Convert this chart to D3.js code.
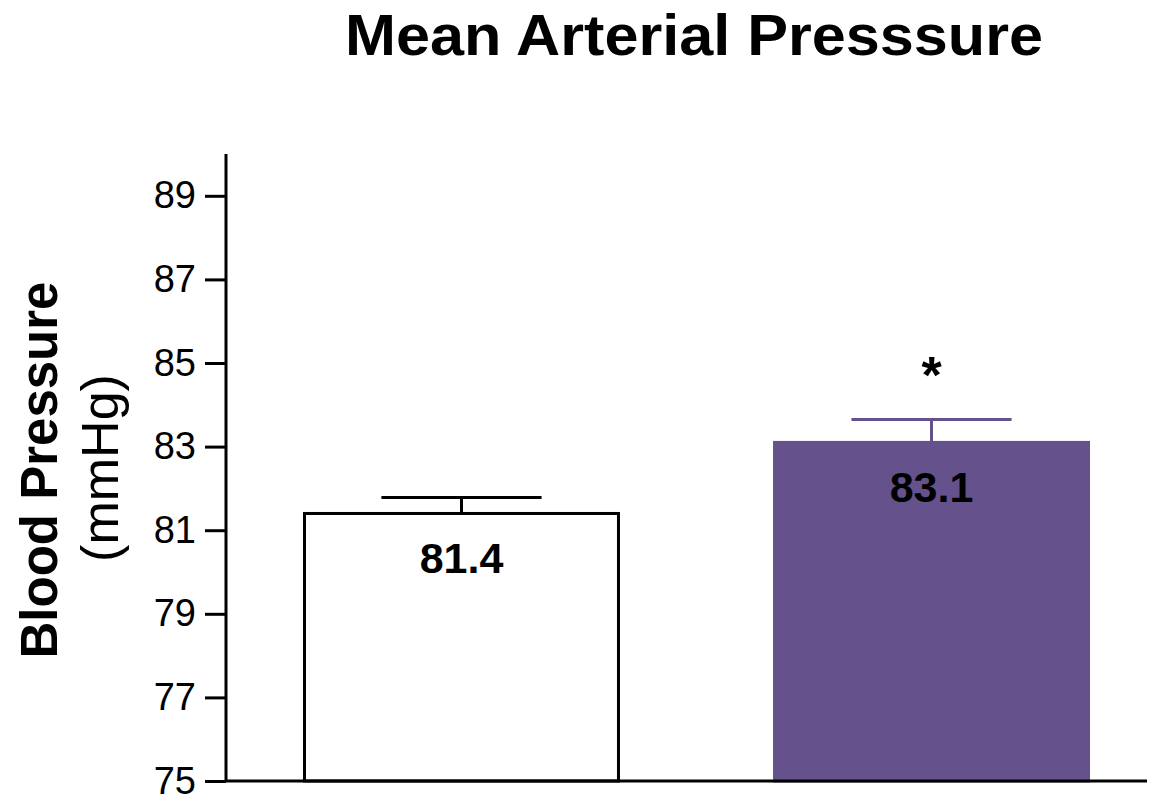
<!DOCTYPE html>
<html>
<head>
<meta charset="utf-8">
<script src="https://cdn.jsdelivr.net/npm/d3@7"></script>
<style>
  body { margin: 0; background: #fff; }
  text { font-family: "Liberation Sans", Arial, sans-serif; }
</style>
</head>
<body>
<div id="chart"></div>
<script>
// data
const groups = ["Control", "Treated"];
const means = [81.4, 83.1];
const errors = [0.38, 0.55];
const valueLabels = ["81.4", "83.1"];
const marks = ["", "*"];
const yTicks = [75, 77, 79, 81, 83, 85, 87, 89];
const barFills = ["#ffffff", "#65518c"];
const barStrokes = ["#000000", "#65518c"];

const W = 1149, H = 799;
const margin = { top: 154, right: 2, bottom: 18, left: 226 };
const width = W - margin.left - margin.right;
const height = H - margin.top - margin.bottom;

const svg = d3.select("#chart")
  .append("svg")
  .attr("width", W)
  .attr("height", H);

const g = svg.append("g")
  .attr("transform", `translate(${margin.left}, ${margin.top})`);

// scales
const x = d3.scaleBand()
  .domain(groups)
  .range([0, 941])
  .paddingInner(0.332)
  .paddingOuter(0.167);

const y = d3.scaleLinear()
  .domain([75, 90])
  .range([height, 0]);

// bars
g.selectAll(".bar")
  .data(groups)
  .join("rect")
  .attr("class", "bar")
  .attr("x", d => x(d))
  .attr("width", x.bandwidth())
  .attr("y", (d, i) => y(means[i]))
  .attr("height", (d, i) => height - y(means[i]))
  .attr("fill", (d, i) => barFills[i])
  .attr("stroke", (d, i) => barStrokes[i])
  .attr("stroke-width", 3);

// error bars
const capW = x.bandwidth() * 0.51;
const err = g.selectAll(".err")
  .data(groups)
  .join("g")
  .attr("class", "err")
  .attr("stroke", (d, i) => barStrokes[i])
  .attr("stroke-width", 3);

err.append("line")
  .attr("x1", d => x(d) + x.bandwidth() / 2)
  .attr("x2", d => x(d) + x.bandwidth() / 2)
  .attr("y1", (d, i) => y(means[i]))
  .attr("y2", (d, i) => y(means[i] + errors[i]));

err.append("line")
  .attr("x1", d => x(d) + x.bandwidth() / 2 - capW / 2)
  .attr("x2", d => x(d) + x.bandwidth() / 2 + capW / 2)
  .attr("y1", (d, i) => y(means[i] + errors[i]))
  .attr("y2", (d, i) => y(means[i] + errors[i]));

// value labels inside bars
g.selectAll(".val")
  .data(groups)
  .join("text")
  .attr("class", "val")
  .attr("x", d => x(d) + x.bandwidth() / 2)
  .attr("y", (d, i) => y(means[i]) + 60)
  .attr("text-anchor", "middle")
  .attr("font-size", 43)
  .attr("font-weight", "bold")
  .text((d, i) => valueLabels[i]);

// significance mark
g.selectAll(".sig")
  .data(groups)
  .join("text")
  .attr("class", "sig")
  .attr("x", d => x(d) + x.bandwidth() / 2)
  .attr("y", (d, i) => y(means[i] + errors[i]) - 26)
  .attr("text-anchor", "middle")
  .attr("font-size", 52)
  .attr("font-weight", "bold")
  .text((d, i) => marks[i]);

// y axis
g.append("g")
  .call(d3.axisLeft(y).tickValues(yTicks).tickSize(21).tickPadding(9).tickSizeOuter(0))
  .call(a => a.select(".domain").attr("stroke-width", 3).attr("d", `M0,0V${height}`))
  .call(a => a.selectAll(".tick line").attr("stroke-width", 3))
  .call(a => a.selectAll(".tick text")
    .attr("font-size", 38)
    .attr("font-family", "'Liberation Sans', Arial, sans-serif")
    .attr("fill", "#000"));

// baseline
g.append("line")
  .attr("x1", 0)
  .attr("x2", width)
  .attr("y1", height)
  .attr("y2", height)
  .attr("stroke", "#000")
  .attr("stroke-width", 3);

// title
svg.append("text")
  .attr("x", 694)
  .attr("y", 55)
  .attr("text-anchor", "middle")
  .attr("font-size", 58)
  .attr("font-weight", "bold")
  .attr("textLength", 698)
  .attr("lengthAdjust", "spacingAndGlyphs")
  .text("Mean Arterial Presssure");

// y axis title
svg.append("text")
  .attr("transform", "translate(57, 470) rotate(-90)")
  .attr("text-anchor", "middle")
  .attr("font-size", 51)
  .attr("font-weight", "bold")
  .text("Blood Pressure");

svg.append("text")
  .attr("transform", "translate(118, 468) rotate(-90)")
  .attr("text-anchor", "middle")
  .attr("font-size", 52)
  .text("(mmHg)");
</script>
</body>
</html>
